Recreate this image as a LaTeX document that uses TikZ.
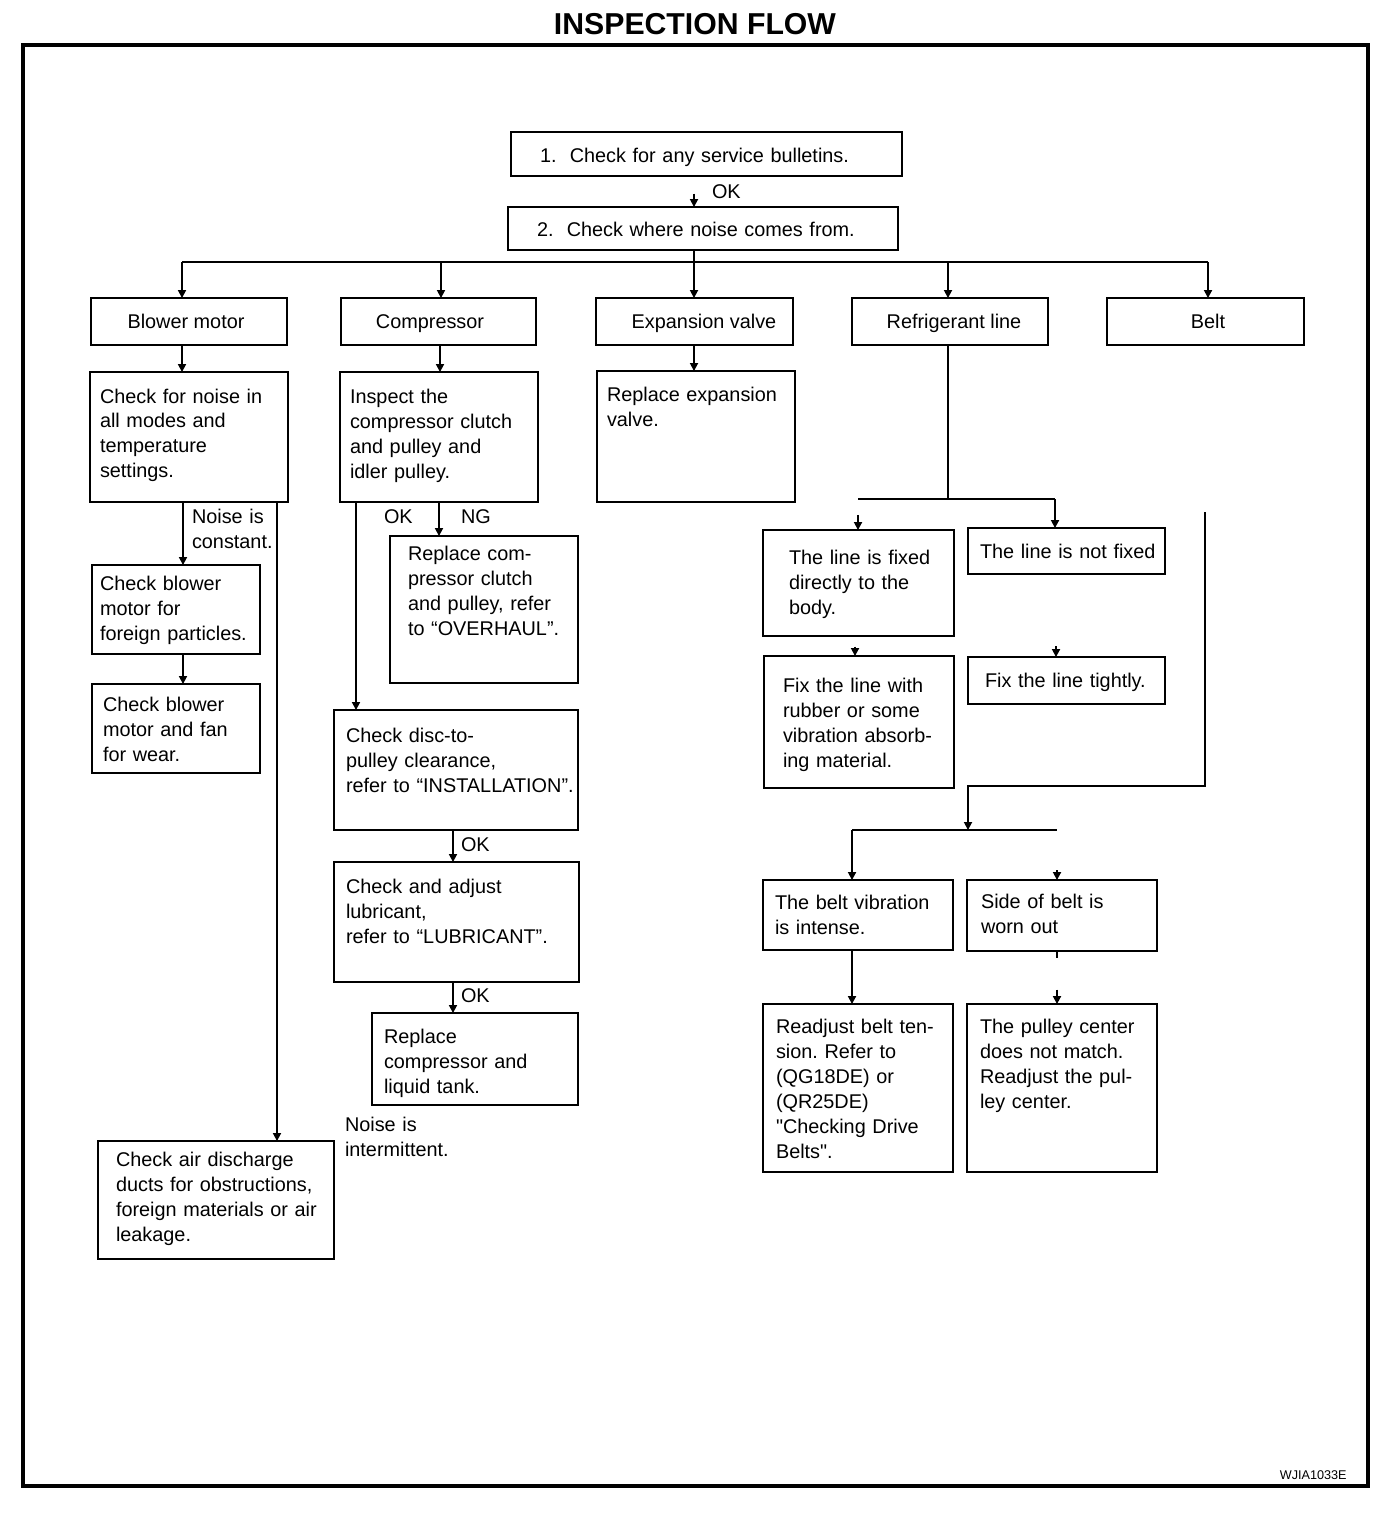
\documentclass[tikz,border=0pt]{standalone}
\usepackage{fontspec}
\setmainfont{Liberation Sans}[Ligatures=TeXOff]
\usetikzlibrary{arrows.meta}
\frenchspacing
\def\pxu{0.569055pt}
\newcommand\bx[6][]{\node[bx,#1,minimum width={(#4-#2)*\pxu},minimum height={(#5-#3)*\pxu}] (#6) at ({(#2+#4)/2},{(#3+#5)/2}) {};}
\tikzset{
  bx/.style={draw, rectangle, inner sep=0pt, outer sep=0pt, line width=0.85pt},
  thickbx/.style={line width=1.6pt},
  tx/.style={anchor=base west, inner sep=0pt, outer sep=0pt, align=left, text width=8cm, font=\fontsize{11.3}{14.2}\selectfont},
  ctx/.style={anchor=base, inner sep=0pt, outer sep=0pt, font=\fontsize{11.3}{14.2}\selectfont},
  arr/.style={line width=0.8pt, -{Triangle[length=4.5pt,width=4.6pt]}},
  ln/.style={line width=0.8pt},
}
\begin{document}
\begin{tikzpicture}[x=0.02cm, y=-0.02cm]
\useasboundingbox (0,0) rectangle (1392,1514);
% title and frame
\node[anchor=base, inner sep=0pt, font=\fontsize{17.2}{20}\selectfont\bfseries] (title) at (695,35) {INSPECTION FLOW};
\draw[line width=1.8pt] (23,45) rectangle (1368,1486);
\node[anchor=base east, inner sep=0pt, font=\fontsize{7.2}{8}\selectfont] (code) at (1347,1479) {WJIA1033E};

% boxes
\bx{511}{132}{902}{176}{b1}
\bx{508}{207}{898}{250}{b2}
\bx{91}{298}{287}{345}{blower}
\bx{341}{298}{536}{345}{comp}
\bx{596}{298}{793}{345}{expv}
\bx{852}{298}{1048}{345}{refl}
\bx{1107}{298}{1304}{345}{belt}
\bx{90}{372}{288}{502}{chk}
\bx{92}{565}{260}{654}{cbm}
\bx{92}{684}{260}{773}{cbf}
\bx{98}{1141}{334}{1259}{air}
\bx{340}{372}{538}{502}{insp}
\bx{390}{536}{578}{683}{repc}
\bx{334}{710}{578}{830}{disc}
\bx{334}{862}{579}{982}{lub}
\bx{372}{1013}{578}{1105}{rcomp}
\bx[thickbx]{597}{371}{795}{502}{expr}
\bx[thickbx]{763}{530}{954}{636}{fixed}
\bx{968}{528}{1165}{574}{notf}
\bx{764}{656}{954}{788}{fixr}
\bx{968}{657}{1165}{704}{tight}
\bx{763}{880}{953}{950}{bv}
\bx{967}{880}{1157}{951}{sw}
\bx{763}{1004}{953}{1172}{rb}
\bx{967}{1004}{1157}{1172}{pc}

% texts
\node[tx] (t1) at (540,162) {1.\ \ Check for any service bulletins.};
\node[tx] (ok1) at (712,198.5) {OK};
\node[tx] (t2) at (537,236.5) {2.\ \ Check where noise comes from.};
\node[ctx] (tblower) at (186,328.5) {Blower motor};
\node[ctx] (tcomp) at (430,328.5) {Compressor};
\node[ctx] (texpv) at (704,328.5) {Expansion valve};
\node[ctx] (trefl) at (954,328.5) {Refrigerant line};
\node[ctx] (tbelt) at (1208,328.5) {Belt};
\node[tx] (tchk) at (100,403) {Check for noise in\\all modes and\\temperature\\settings.};
\node[tx] (tconst) at (192,523.5) {Noise is\\constant.};
\node[tx] (tcbm) at (100,590.5) {Check blower\\motor for\\foreign particles.};
\node[tx] (tcbf) at (103,711.5) {Check blower\\motor and fan\\for wear.};
\node[tx] (tair) at (116,1166.5) {Check air discharge\\ducts for obstructions,\\foreign materials or air\\leakage.};
\node[tx] (tinsp) at (350,403.5) {Inspect the\\compressor clutch\\and pulley and\\idler pulley.};
\node[tx] (ok2) at (384,523.5) {OK};
\node[tx] (ng2) at (461,523.5) {NG};
\node[tx] (trepc) at (408,560.5) {Replace com-\\pressor clutch\\and pulley, refer\\to “OVERHAUL”.};
\node[tx] (tdisc) at (346,742.5) {Check disc-to-\\pulley clearance,\\refer to “INSTALLATION”.};
\node[tx] (ok3) at (461,851.5) {OK};
\node[tx] (tlub) at (346,893.5) {Check and adjust\\lubricant,\\refer to “LUBRICANT”.};
\node[tx] (ok4) at (461,1002.5) {OK};
\node[tx] (trcomp) at (384,1043.5) {Replace\\compressor and\\liquid tank.};
\node[tx] (tinter) at (345,1131.5) {Noise is\\intermittent.};
\node[tx] (texpr) at (607,401.5) {Replace expansion\\valve.};
\node[tx] (tfixed) at (789,564.5) {The line is fixed\\directly to the\\body.};
\node[tx] (tnotf) at (980,558.5) {The line is not fixed};
\node[tx] (tfixr) at (783,692.5) {Fix the line with\\rubber or some\\vibration absorb-\\ing material.};
\node[tx] (ttight) at (985,687.5) {Fix the line tightly.};
\node[tx] (tbv) at (775,909.5) {The belt vibration\\is intense.};
\node[tx] (tsw) at (981,908.5) {Side of belt is\\worn out};
\node[tx] (trb) at (776,1033.5) {Readjust belt ten-\\sion. Refer to\\(QG18DE) or\\(QR25DE)\\"Checking Drive\\Belts".};
\node[tx] (tpc) at (980,1033.5) {The pulley center\\does not match.\\Readjust the pul-\\ley center.};

% junction coordinates
\coordinate (j0) at (694,262);
\coordinate (jr) at (948,499);
\coordinate (jrl) at (858,499);
\coordinate (jrr) at (1055,499);
\coordinate (jb0) at (1205,512);
\coordinate (jb1) at (1205,786);
\coordinate (jb) at (968,830);
\coordinate (jbl) at (852,830);
\coordinate (jbr) at (1057,830);

% connectors
\draw[arr, shorten <=10pt] (b1.south -| 694,0) -- (b2.north -| 694,0);
\draw[ln] (b2.south -| 694,0) -- (j0);
\draw[ln] (182,262) -- (1208,262);
\draw[arr] (182,262) -- (blower.north -| 182,0);
\draw[arr] (441,262) -- (comp.north -| 441,0);
\draw[arr] (j0) -- (expv.north -| 694,0);
\draw[arr] (948,262) -- (refl.north -| 948,0);
\draw[arr] (1208,262) -- (belt.north -| 1208,0);

% blower column
\draw[arr] (blower.south -| 182,0) -- (chk.north -| 182,0);
\draw[arr] (chk.south -| 183,0) -- (cbm.north -| 183,0);
\draw[arr] (chk.south -| 277,0) -- (air.north -| 277,0);
\draw[arr] (cbm.south -| 183,0) -- (cbf.north -| 183,0);

% compressor column
\draw[arr] (comp.south -| 440,0) -- (insp.north -| 440,0);
\draw[arr] (insp.south -| 439,0) -- (repc.north -| 439,0);
\draw[arr] (insp.south -| 356,0) -- (disc.north -| 356,0);
\draw[arr] (disc.south -| 453,0) -- (lub.north -| 453,0);
\draw[arr] (lub.south -| 453,0) -- (rcomp.north -| 453,0);

% expansion valve column
\draw[arr] (expv.south -| 694,0) -- (expr.north -| 694,0);

% refrigerant line column
\draw[ln] (refl.south -| 948,0) -- (jr);
\draw[ln] (jrl) -- (jrr);
\draw[arr, shorten <=9pt] (jrl) -- (fixed.north -| 858,0);
\draw[arr] (jrr) -- (notf.north -| 1055,0);
\draw[arr, shorten <=6pt] (fixed.south -| 855,0) -- (fixr.north -| 855,0);
\draw[arr, shorten <=41pt] (notf.south -| 1056,0) -- (tight.north -| 1056,0);

% belt column
\draw[arr] (jb0) -- (jb1) -| (jb);
\draw[ln] (jbl) -- (jbr);
\draw[arr] (jbl) -- (bv.north -| 852,0);
\draw[arr, shorten <=23pt] (jbr) -- (sw.north -| 1057,0);
\draw[arr] (bv.south -| 852,0) -- (rb.north -| 852,0);
\draw[arr, shorten <=22pt] (sw.south -| 1057,0) -- (pc.north -| 1057,0);
\draw[ln] (sw.south -| 1057,0) -- ++(0,7);
\end{tikzpicture}
\end{document}
